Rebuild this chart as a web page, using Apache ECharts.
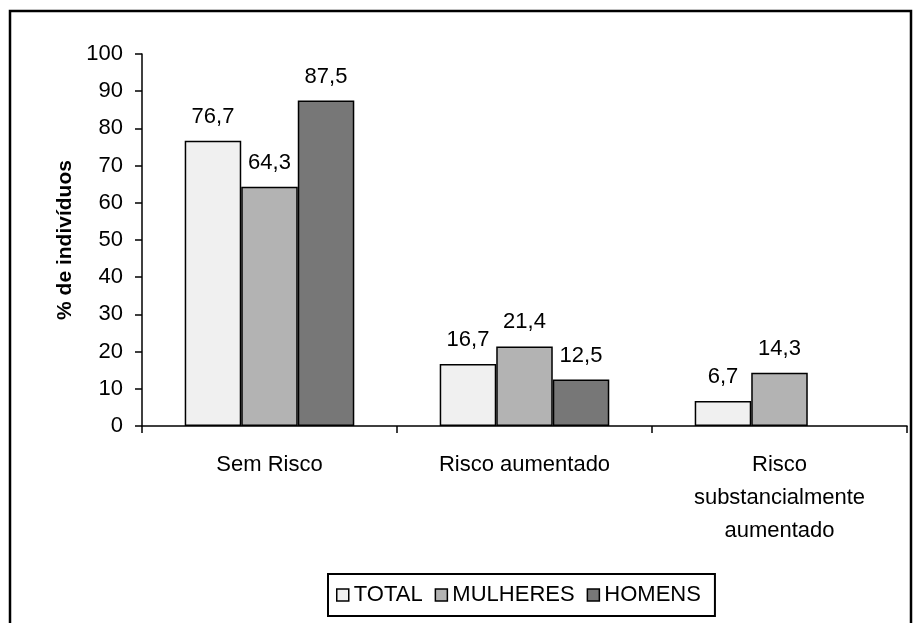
<!DOCTYPE html>
<html>
<head>
<meta charset="utf-8">
<script src="https://cdn.jsdelivr.net/npm/echarts@6/dist/echarts.min.js"></script>
<style>
  html, body { margin: 0; padding: 0; background: #fff; }
  #chart { width: 913px; height: 623px; }
</style>
</head>
<body>
<div id="chart"></div>
<script>
const categories = ['Sem Risco', 'Risco aumentado', 'Risco\nsubstancialmente\naumentado']
const total = [76.7, 16.7, 6.7]
const mulheres = [64.3, 21.4, 14.3]
const homens = [87.5, 12.5, null]

const FONT = 'Liberation Sans, Arial, sans-serif'
const fmt = p => (p.value == null ? '' : String(p.value).replace('.', ','))

function barSeries(name, data, color) {
  return {
    name,
    type: 'bar',
    data,
    barGap: '0%',
    barCategoryGap: '33.5%',
    itemStyle: { color, borderColor: '#000', borderWidth: 1.5 },
    label: {
      show: true,
      position: 'top',
      distance: 13,
      formatter: fmt,
      color: '#000',
      fontFamily: FONT,
      fontSize: 22,
    },
  }
}

const chart = echarts.init(document.getElementById('chart'))
chart.setOption({
  animation: false,
  textStyle: { fontFamily: FONT },
  graphic: [
    {
      type: 'rect',
      shape: { x: 10, y: 11, width: 901, height: 620 },
      style: { fill: 'none', stroke: '#000', lineWidth: 2.5 },
    },
  ],
  grid: { left: 142, right: 6, top: 54, bottom: 197 },
  legend: {
    top: 574,
    left: 328,
    icon: 'rect',
    itemWidth: 12,
    itemHeight: 12,
    itemGap: 12,
    padding: [10, 14, 10, 8],
    borderColor: '#000',
    borderWidth: 2,
    itemStyle: { borderColor: '#000', borderWidth: 1.5 },
    textStyle: { fontFamily: FONT, fontSize: 22, color: '#000' },
    data: ['TOTAL', 'MULHERES', 'HOMENS'],
  },
  xAxis: {
    type: 'category',
    data: categories,
    axisLine: { lineStyle: { color: '#000', width: 1.5 } },
    axisTick: { show: true, length: 7, inside: false, lineStyle: { color: '#000', width: 1.5 } },
    axisLabel: {
      color: '#000',
      fontFamily: FONT,
      fontSize: 22,
      margin: 22,
      lineHeight: 33,
      interval: 0,
    },
  },
  yAxis: {
    type: 'value',
    min: 0,
    max: 100,
    interval: 10,
    name: '% de indivíduos',
    nameLocation: 'middle',
    nameGap: 66,
    nameTextStyle: { fontFamily: FONT, fontSize: 21, fontWeight: 'bold', color: '#000' },
    axisLine: { show: true, lineStyle: { color: '#000', width: 1.5 } },
    axisTick: { show: true, length: 7, lineStyle: { color: '#000', width: 1.5 } },
    axisLabel: { color: '#000', fontFamily: FONT, fontSize: 22, margin: 19 },
    splitLine: { show: false },
  },
  series: [
    barSeries('TOTAL', total, '#f0f0f0'),
    barSeries('MULHERES', mulheres, '#b3b3b3'),
    barSeries('HOMENS', homens, '#777777'),
  ],
})
</script>
</body>
</html>
